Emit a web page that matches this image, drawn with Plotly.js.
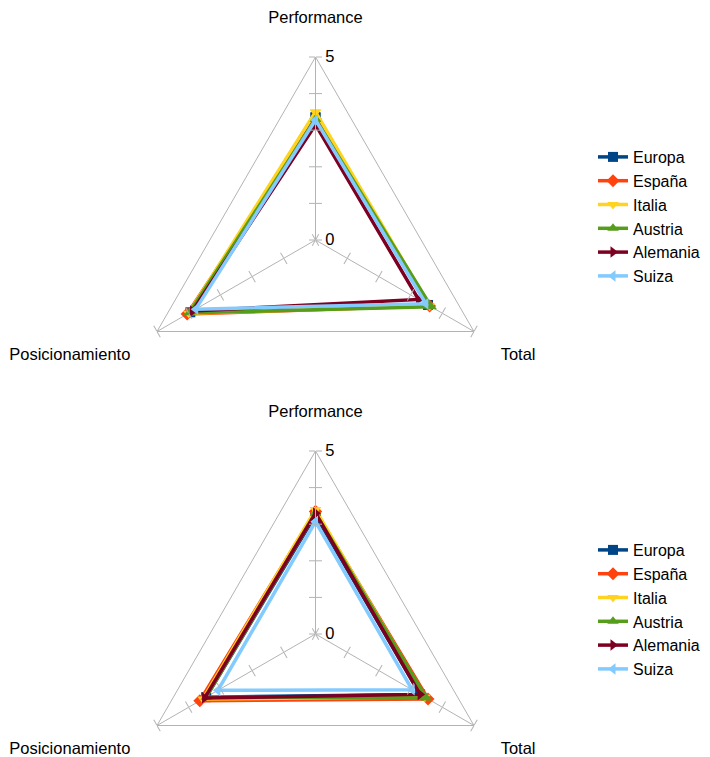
<!DOCTYPE html>
<html>
<head>
<meta charset="utf-8">
<script src="https://cdn.plot.ly/plotly-3.0.1.min.js"></script>
<style>
html, body { margin: 0; padding: 0; overflow: hidden; background: #fff; }
#chart { width: 710px; height: 830px; }
</style>
</head>
<body>
<div id="chart"></div>
<script>
// ---- data ----
const categories = ['Performance', 'Total', 'Posicionamiento'];
const seriesNames = ['Europa', 'España', 'Italia', 'Austria', 'Alemania', 'Suiza'];
const seriesColors = ['#004586', '#ff420e', '#ffd320', '#579d1c', '#7e0021', '#83caff'];
const seriesSymbols = ['square', 'diamond', 'triangle-down', 'triangle-up', 'triangle-right', 'triangle-left'];
const radialTickValues = [0, 1, 2, 3, 4, 5];
const radialTickLabels = ['0', '', '', '', '', '5'];

// chart 1 (top), one value per series
const topPerformance     = [3.35, 3.30, 3.50, 3.30, 3.15, 3.28];
const topTotal           = [3.55, 3.60, 3.60, 3.65, 3.25, 3.48];
const topPosicionamiento = [3.95, 4.05, 4.00, 3.98, 3.88, 3.78];

// chart 2 (bottom)
const bottomPerformance     = [3.25, 3.35, 3.40, 3.30, 3.30, 3.07];
const bottomTotal           = [3.30, 3.55, 3.45, 3.50, 3.30, 3.05];
const bottomPosicionamiento = [3.45, 3.65, 3.55, 3.45, 3.50, 3.08];

// ---- layout geometry ----
const W = 710, H = 830;
const R = 183, CX = 315.5;
const centersY = [240, 634];
const GRID = '#b3b3b3';
const FONT = 'Liberation Sans, Arial, sans-serif';

function domainFor(cy) {
  return {
    x: [(CX - R) / W, (CX + R) / W],
    y: [(H - (cy + R)) / H, (H - (cy - R)) / H]
  };
}

const traces = [];
const layout = {
  width: W, height: H,
  margin: {l: 0, r: 0, t: 0, b: 0},
  paper_bgcolor: '#ffffff',
  font: {family: FONT, size: 15, color: '#000'},
  showlegend: true
};

function mainPolar(cy) {
  return {
    domain: domainFor(cy),
    gridshape: 'linear',
    bgcolor: 'rgba(0,0,0,0)',
    angularaxis: {
      type: 'category',
      categoryorder: 'array',
      categoryarray: categories,
      direction: 'clockwise',
      rotation: 90,
      showline: true, linecolor: GRID, linewidth: 1,
      showgrid: true, gridcolor: GRID, gridwidth: 1,
      ticks: 'outside', ticklen: 27, tickcolor: 'rgba(0,0,0,0)',
      tickfont: {family: FONT, size: 16.5, color: '#000'}
    },
    radialaxis: {
      range: [0, 5], angle: 90,
      showline: true, linecolor: GRID, linewidth: 1,
      showgrid: false,
      tickmode: 'array', tickvals: radialTickValues, ticktext: radialTickLabels,
      ticks: 'outside', ticklen: 6, tickcolor: GRID,
      tickfont: {family: FONT, size: 16.5, color: '#000'},
      tickangle: 90
    }
  };
}

function tickPolar(cy, angle, side) {
  return {
    domain: domainFor(cy),
    gridshape: 'linear',
    bgcolor: 'rgba(0,0,0,0)',
    angularaxis: {visible: false, direction: 'clockwise', rotation: 90},
    radialaxis: {
      range: [0, 5], angle: angle,
      showline: false, showgrid: false, showticklabels: false,
      tickmode: 'array', tickvals: radialTickValues,
      ticks: side, ticklen: 6, tickcolor: GRID
    }
  };
}

const charts = [
  {perf: topPerformance, total: topTotal, pos: topPosicionamiento, legend: 'legend', polar: 'polar'},
  {perf: bottomPerformance, total: bottomTotal, pos: bottomPosicionamiento, legend: 'legend2', polar: 'polar2'}
];

let overlayIdx = 3;
charts.forEach((c, ci) => {
  const cy = centersY[ci];
  layout[c.polar] = mainPolar(cy);
  // extra tick marks on all three spokes
  [[90, 'inside'], [210, 'outside'], [210, 'inside'], [330, 'outside'], [330, 'inside']].forEach(([ang, side]) => {
    const id = 'polar' + overlayIdx++;
    layout[id] = tickPolar(cy, ang, side);
    traces.push({
      type: 'scatterpolar', subplot: id, r: [0], theta: [0],
      mode: 'markers', marker: {opacity: 0}, hoverinfo: 'skip', showlegend: false
    });
  });
  seriesNames.forEach((name, i) => {
    traces.push({
      type: 'scatterpolar',
      subplot: c.polar,
      legend: c.legend,
      name: name,
      r: [c.perf[i], c.total[i], c.pos[i], c.perf[i]],
      theta: [categories[0], categories[1], categories[2], categories[0]],
      mode: 'lines+markers',
      line: {color: seriesColors[i], width: 3.5},
      marker: {symbol: seriesSymbols[i], size: 10, color: seriesColors[i]},
      cliponaxis: false
    });
  });
});

layout.legend = {
  x: 593 / W, xanchor: 'left', y: (H - 140) / H, yanchor: 'top',
  font: {family: FONT, size: 16, color: '#000'},
  bgcolor: 'rgba(0,0,0,0)', tracegroupgap: 0, itemclick: false
};
layout.legend2 = {
  x: 593 / W, xanchor: 'left', y: (H - 533) / H, yanchor: 'top',
  font: {family: FONT, size: 16, color: '#000'},
  bgcolor: 'rgba(0,0,0,0)', tracegroupgap: 0, itemclick: false
};

Plotly.newPlot('chart', traces, layout, {staticPlot: true, displayModeBar: false});
</script>
</body>
</html>
